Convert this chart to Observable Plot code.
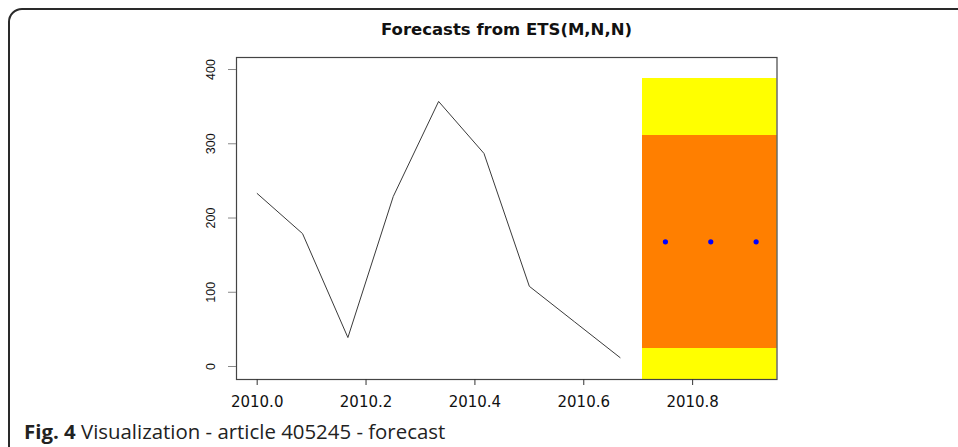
<!DOCTYPE html>
<html>
<head>
<meta charset="utf-8">
<script src="https://cdn.jsdelivr.net/npm/d3@7"></script>
<script src="https://cdn.jsdelivr.net/npm/@observablehq/plot@0.6"></script>
<style>
  html, body { margin: 0; padding: 0; background: #fff; width: 958px; height: 447px; overflow: hidden; }
  #frame { position: absolute; left: 8px; top: 8px; width: 1000px; height: 470px; border: 2px solid #2a2a2a; border-radius: 14px; box-sizing: border-box; }
  #title { position: absolute; left: 236px; width: 541px; top: 20px; text-align: center; font: bold 16.5px "DejaVu Sans", sans-serif; line-height: 20px; color: #111; }
  #chart { position: absolute; left: 0; top: 45px; }
  #caption { position: absolute; left: 24px; top: 418px; font: 20.4px "Open Sans", sans-serif; color: #222; line-height: 26px; white-space: nowrap; }
</style>
</head>
<body>
<div id="frame"></div>
<div id="title">Forecasts from ETS(M,N,N)</div>
<div id="chart"></div>
<div id="caption"><b>Fig. 4</b> Visualization - article 405245 - forecast</div>
<script>
// Observed series (monthly, starting 2010.0)
const obsTimes = [0, 1, 2, 3, 4, 5, 6, 7, 8].map(k => 2010 + k / 12);
const obsValues = [233, 179, 39, 229, 357, 287, 108, 60, 12];

// Forecasts (next three months)
const fcTimes = [9, 10, 11].map(k => 2010 + k / 12);
const fcMean = [168, 168, 168];
const lo80 = [24, 24, 24];
const hi80 = [311, 311, 311];
const lo95 = [-52, -52, -52];
const hi95 = [388, 388, 388];

const xTicks = [2010.0, 2010.2, 2010.4, 2010.6, 2010.8];
const yTicks = [0, 100, 200, 300, 400];

const obs = obsTimes.map((t, i) => ({t, v: obsValues[i]}));
const fc = fcTimes.map((t, i) => ({t, m: fcMean[i], lo80: lo80[i], hi80: hi80[i], lo95: lo95[i], hi95: hi95[i]}));
const halfStep = 1 / 24;

const chart = Plot.plot({
  width: 958,
  height: 375,
  marginLeft: 236,
  marginRight: 181.5,
  marginTop: 12,
  marginBottom: 41,
  style: {background: "transparent", fontFamily: "DejaVu Sans, sans-serif"},
  x: {domain: [2009.962, 2010.955]},
  y: {domain: [-17.5, 416.2]},
  marks: [
    Plot.rectY(fc, {x1: d => d.t - halfStep, x2: d => d.t + halfStep, y1: "lo95", y2: "hi95", fill: "#ffff00", clip: true, shapeRendering: "crispEdges"}),
    Plot.rectY(fc, {x1: d => d.t - halfStep, x2: d => d.t + halfStep, y1: "lo80", y2: "hi80", fill: "#ff7f00", clip: true, shapeRendering: "crispEdges"}),
    Plot.line(obs, {x: "t", y: "v", stroke: "#3a3a3a", strokeWidth: 1}),
    Plot.dot(fc, {x: "t", y: "m", fill: "#0000ff", r: 2.6}),
    Plot.frame({stroke: "#444", strokeWidth: 1.2}),
    Plot.axisX({ticks: xTicks, tickSize: 6, tickPadding: 11, tickFormat: d => d.toFixed(1), fontSize: 15, fill: "#111", stroke: "#333", label: null}),
    Plot.axisY({ticks: yTicks, tickSize: 8, tickFormat: () => "", stroke: "#888", label: null}),
    Plot.text(yTicks, {y: d => d, text: d => String(d), frameAnchor: "left", rotate: -90, dx: -26, fontSize: 12.5, fill: "#111", fontFamily: "Liberation Sans, sans-serif", lineAnchor: "middle", textAnchor: "middle"})
  ]
});
document.getElementById("chart").appendChild(chart);
</script>
</body>
</html>
